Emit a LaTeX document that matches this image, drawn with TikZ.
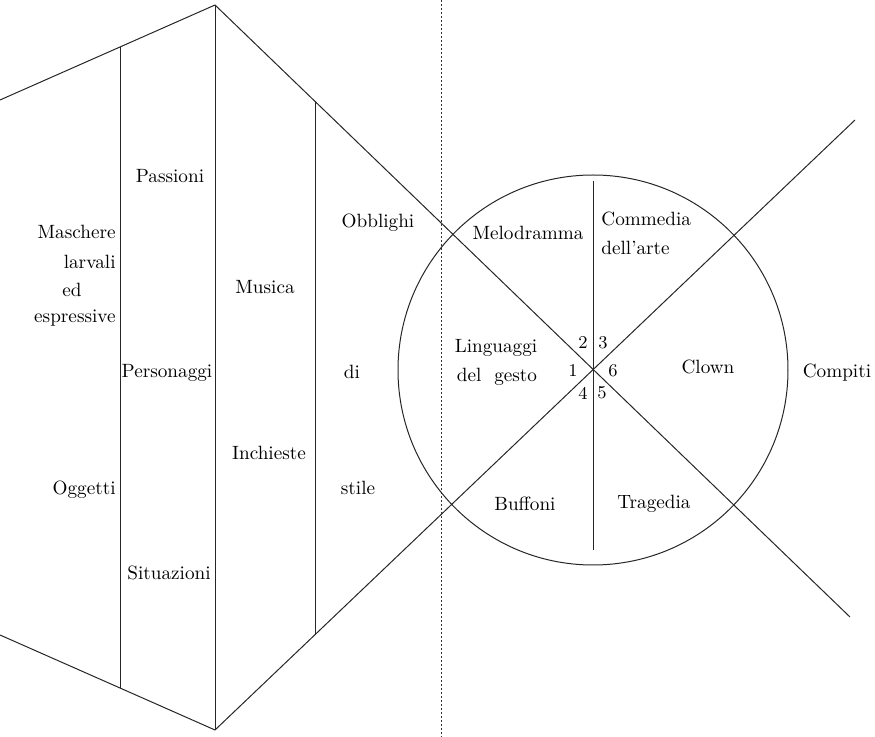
\documentclass[tikz,border=0pt]{standalone}
\usepackage{tikz}
\usetikzlibrary{shapes.geometric}

\begin{document}
\begin{tikzpicture}[
  x=0.5pt, y=-0.5pt,
  every node/.style={font=\fontsize{9.6}{12}\selectfont, inner sep=0pt},
  frameline/.style={line width=0.5pt, black!85},
  cutline/.style={line width=0.5pt, black!80, dash pattern=on 1.2pt off 0.8pt},
  numlabel/.style={font=\fontsize{9}{11}\selectfont},
]
\useasboundingbox (0,0) rectangle (875,737);

%%% Left shape: bands of the hexagon %%%
\coordinate (ul)  at (0,100);
\coordinate (ll)  at (0,635);
\coordinate (a1)  at (120,47);
\coordinate (a2)  at (120,688);
\coordinate (top) at (215,5);
\coordinate (bot) at (215,730);
\coordinate (b1)  at (315,101);
\coordinate (b2)  at (315,635);
\coordinate (ctr) at (593,370);
\coordinate (ne)  at (855,120);
\coordinate (se)  at (850,617);
\coordinate (d1)  at (441,0);
\coordinate (d2)  at (441,737);
\coordinate (v1)  at (593,181);
\coordinate (v2)  at (593,550);

% Outer edges, running on through the wheel
\draw[frameline] (ul) -- (a1) -- (top) -- (se);
\draw[frameline] (ll) -- (a2) -- (bot) -- (ne);
% Band separators
\draw[frameline] (a1) -- (a2);
\draw[frameline] (top) -- (bot);
\draw[frameline] (b1) -- (b2);
% Dotted cut
\draw[cutline] (d1) -- (d2);

%%% Wheel %%%
\node[circle, draw, line width=0.5pt, black!85, minimum size=195pt] (wheel) at (ctr) {};
\draw[frameline] (v1) -- (v2);

% Band 1
\node[anchor=east] (maschere) at (116,232) {Maschere};
\node[anchor=east] (larvali) at (116,262) {larvali};
\node[anchor=west] (ed) at (62,290) {ed};
\node[anchor=east] (espressive) at (116,318) {espressive};
\node[anchor=east] (oggetti) at (116,490) {Oggetti};
% Band 2
\node (passioni) at (170,176) {Passioni};
\node (personaggi) at (167,373) {Personaggi};
\node (situazioni) at (169,573) {Situazioni};
% Band 3
\node (musica) at (265,287) {Musica};
\node (inchieste) at (269,453) {Inchieste};
% Band 4
\node (obblighi) at (378,223) {Obblighi};
\node (di) at (352,372) {di};
\node (stile) at (358,488) {stile};

% Sectors
\node (melodramma) at (528,233) {Melodramma};
\node[anchor=west] (commedia) at (601,219) {Commedia};
\node[anchor=west] (dellarte) at (601,248) {dell'arte};
\node (linguaggi) at (496,348) {Linguaggi};
\node (gesto) at (497,377) {del\ \ gesto};
\node (clown) at (708,367) {Clown};
\node (buffoni) at (525,504) {Buffoni};
\node (tragedia) at (654,504) {Tragedia};
\node (compiti) at (837,373) {Compiti};

% Sector numbers
\node[numlabel] (n1) at (573,371) {1};
\node[numlabel] (n2) at (583,343) {2};
\node[numlabel] (n3) at (603,343) {3};
\node[numlabel] (n4) at (583,393) {4};
\node[numlabel] (n5) at (602,393) {5};
\node[numlabel] (n6) at (613,371) {6};

\end{tikzpicture}
\end{document}
